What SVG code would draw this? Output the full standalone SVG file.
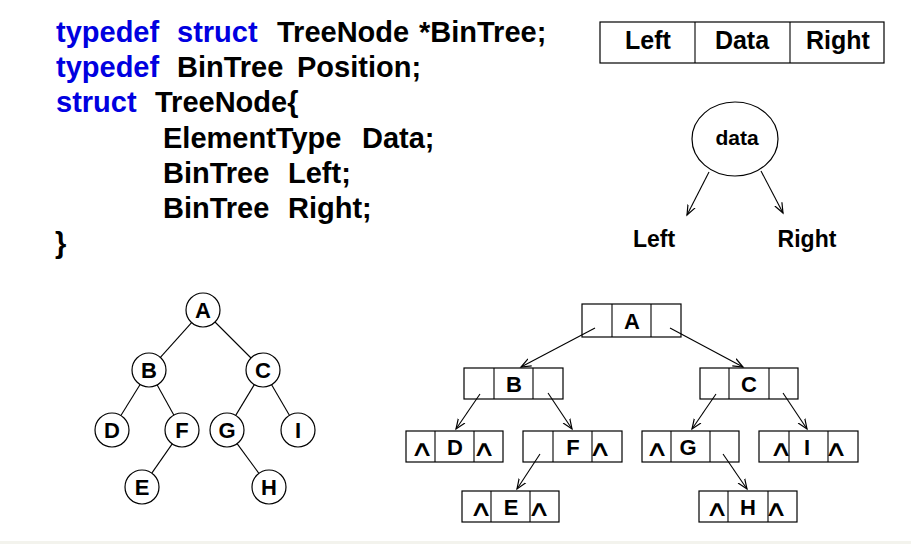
<svg xmlns="http://www.w3.org/2000/svg" width="911" height="544" viewBox="0 0 911 544">
<defs>
<marker id="arr" markerUnits="userSpaceOnUse" markerWidth="12" markerHeight="12" refX="10" refY="5" orient="auto">
<path d="M0,1 L10,5 L0,9" fill="none" stroke="#000" stroke-width="1.2"/>
</marker>
</defs>
<style>
text{font-family:"Liberation Sans",Arial,sans-serif;font-weight:bold;fill:#000}
.code{font-size:29px}
.kw{fill:#0000e0}
.cell{fill:#fff;stroke:#000;stroke-width:1.2}
.lbl{font-size:22px;text-anchor:middle}
.nil{font-family:"DejaVu Sans",sans-serif;font-weight:normal;font-size:22px;text-anchor:middle}
.circ{fill:#fff;stroke:#000;stroke-width:1.2}
.cl{font-size:22px;text-anchor:middle}
.edge{stroke:#000;stroke-width:1.1;fill:none}
.arrow{stroke:#000;stroke-width:1.1;fill:none;marker-end:url(#arr)}
</style>
<rect width="911" height="544" fill="#fff"/>
<rect x="0" y="541" width="911" height="3" fill="#f3f3ed"/>

<g id="code">
<text class="code kw" x="56" y="42">typedef</text>
<text class="code kw" x="177" y="42">struct</text>
<text class="code" x="277" y="42">TreeNode</text>
<text class="code" x="419" y="42">*BinTree;</text>
<text class="code kw" x="56" y="77">typedef</text>
<text class="code" x="177" y="77">BinTree</text>
<text class="code" x="297" y="77">Position;</text>
<text class="code kw" x="56" y="112">struct</text>
<text class="code" x="155" y="112">TreeNode{</text>
<text class="code" x="163" y="148">ElementType</text>
<text class="code" x="362" y="148">Data;</text>
<text class="code" x="163" y="183">BinTree</text>
<text class="code" x="288" y="183">Left;</text>
<text class="code" x="163" y="218">BinTree</text>
<text class="code" x="288" y="218">Right;</text>
<text class="code" x="55" y="253">}</text>
</g>

<g id="struct-table">
<rect class="cell" x="600" y="22" width="284" height="41"/>
<line class="edge" x1="695" y1="22" x2="695" y2="63"/>
<line class="edge" x1="790" y1="22" x2="790" y2="63"/>
<text x="648" y="49" font-size="25" text-anchor="middle">Left</text>
<text x="742" y="49" font-size="25" text-anchor="middle">Data</text>
<text x="838" y="49" font-size="25" text-anchor="middle">Right</text>
</g>

<g id="data-node">
<ellipse class="circ" cx="735" cy="139" rx="43" ry="37"/>
<text x="737" y="145" font-size="21" text-anchor="middle">data</text>
</g>
<g id="data-labels">
<text x="654" y="247" font-size="23" text-anchor="middle">Left</text>
<text x="807" y="247" font-size="23" text-anchor="middle">Right</text>
</g>

<g id="tree-nodes">
<g id="tA"><circle class="circ" cx="203" cy="310" r="17"/><text class="cl" x="203" y="318">A</text></g>
<g id="tB"><circle class="circ" cx="149" cy="370" r="17"/><text class="cl" x="149" y="378">B</text></g>
<g id="tC"><circle class="circ" cx="263" cy="370" r="17"/><text class="cl" x="263" y="378">C</text></g>
<g id="tD"><circle class="circ" cx="112" cy="430" r="17"/><text class="cl" x="112" y="438">D</text></g>
<g id="tF"><circle class="circ" cx="182" cy="430" r="17"/><text class="cl" x="182" y="438">F</text></g>
<g id="tG"><circle class="circ" cx="227" cy="430" r="17"/><text class="cl" x="227" y="438">G</text></g>
<g id="tI"><circle class="circ" cx="298" cy="430" r="17"/><text class="cl" x="298" y="438">I</text></g>
<g id="tE"><circle class="circ" cx="142" cy="487" r="17"/><text class="cl" x="142" y="495">E</text></g>
<g id="tH"><circle class="circ" cx="269" cy="487" r="17"/><text class="cl" x="269" y="495">H</text></g>
</g>

<g id="list-nodes">
<g id="nA"><rect class="cell" x="582" y="304" width="99" height="33"/><line class="edge" x1="612" y1="304" x2="612" y2="337"/><line class="edge" x1="651" y1="304" x2="651" y2="337"/><text class="lbl" x="632" y="329">A</text></g>
<g id="nB"><rect class="cell" x="464" y="368" width="99" height="31"/><line class="edge" x1="494" y1="368" x2="494" y2="399"/><line class="edge" x1="533" y1="368" x2="533" y2="399"/><text class="lbl" x="514" y="392">B</text></g>
<g id="nC"><rect class="cell" x="700" y="368" width="98" height="31"/><line class="edge" x1="729" y1="368" x2="729" y2="399"/><line class="edge" x1="769" y1="368" x2="769" y2="399"/><text class="lbl" x="749" y="392">C</text></g>
<g id="nD"><rect class="cell" x="406" y="431" width="97" height="31"/><line class="edge" x1="435" y1="431" x2="435" y2="462"/><line class="edge" x1="474" y1="431" x2="474" y2="462"/><text class="lbl" x="455" y="455">D</text><text class="nil" transform="translate(422,456) scale(1.5,1)">∧</text><text class="nil" transform="translate(484,456) scale(1.5,1)">∧</text></g>
<g id="nF"><rect class="cell" x="523" y="431" width="99" height="31"/><line class="edge" x1="553" y1="431" x2="553" y2="462"/><line class="edge" x1="592" y1="431" x2="592" y2="462"/><text class="lbl" x="573" y="455">F</text><text class="nil" transform="translate(600,456) scale(1.5,1)">∧</text></g>
<g id="nG"><rect class="cell" x="642" y="431" width="97" height="31"/><line class="edge" x1="671" y1="431" x2="671" y2="462"/><line class="edge" x1="710" y1="431" x2="710" y2="462"/><text class="lbl" x="688" y="455">G</text><text class="nil" transform="translate(657,456) scale(1.5,1)">∧</text></g>
<g id="nI"><rect class="cell" x="759" y="431" width="99" height="31"/><line class="edge" x1="789" y1="431" x2="789" y2="462"/><line class="edge" x1="828" y1="431" x2="828" y2="462"/><text class="lbl" x="807" y="455">I</text><text class="nil" transform="translate(781,456) scale(1.5,1)">∧</text><text class="nil" transform="translate(836,456) scale(1.5,1)">∧</text></g>
<g id="nE"><rect class="cell" x="462" y="491" width="97" height="31"/><line class="edge" x1="491" y1="491" x2="491" y2="522"/><line class="edge" x1="530" y1="491" x2="530" y2="522"/><text class="lbl" x="511" y="515">E</text><text class="nil" transform="translate(481,516) scale(1.5,1)">∧</text><text class="nil" transform="translate(539,516) scale(1.5,1)">∧</text></g>
<g id="nH"><rect class="cell" x="699" y="491" width="98" height="31"/><line class="edge" x1="728" y1="491" x2="728" y2="522"/><line class="edge" x1="768" y1="491" x2="768" y2="522"/><text class="lbl" x="748" y="515">H</text><text class="nil" transform="translate(717,516) scale(1.5,1)">∧</text><text class="nil" transform="translate(776,516) scale(1.5,1)">∧</text></g>
</g>

<g id="connectors">
<line class="arrow" x1="709" y1="172" x2="687" y2="215"/>
<line class="arrow" x1="761" y1="171" x2="783" y2="213"/>
<line class="edge" x1="191.6" y1="322.6" x2="160.4" y2="357.4"/>
<line class="edge" x1="215" y1="322" x2="251" y2="358"/>
<line class="edge" x1="140.1" y1="384.5" x2="120.9" y2="415.5"/>
<line class="edge" x1="157.2" y1="384.9" x2="173.8" y2="415.1"/>
<line class="edge" x1="254.3" y1="384.6" x2="235.7" y2="415.4"/>
<line class="edge" x1="271.6" y1="384.7" x2="289.4" y2="415.3"/>
<line class="edge" x1="172.2" y1="443.9" x2="151.8" y2="473.1"/>
<line class="edge" x1="237.1" y1="443.7" x2="258.9" y2="473.3"/>
<line class="arrow" x1="595" y1="328" x2="521" y2="367"/>
<line class="arrow" x1="670" y1="328" x2="743" y2="367"/>
<line class="arrow" x1="480" y1="394" x2="456" y2="429"/>
<line class="arrow" x1="548" y1="393" x2="572" y2="429"/>
<line class="arrow" x1="540" y1="454" x2="517" y2="489"/>
<line class="arrow" x1="716" y1="394" x2="692" y2="429"/>
<line class="arrow" x1="783" y1="393" x2="807" y2="429"/>
<line class="arrow" x1="723" y1="454" x2="747" y2="489"/>
</g>
</svg>
